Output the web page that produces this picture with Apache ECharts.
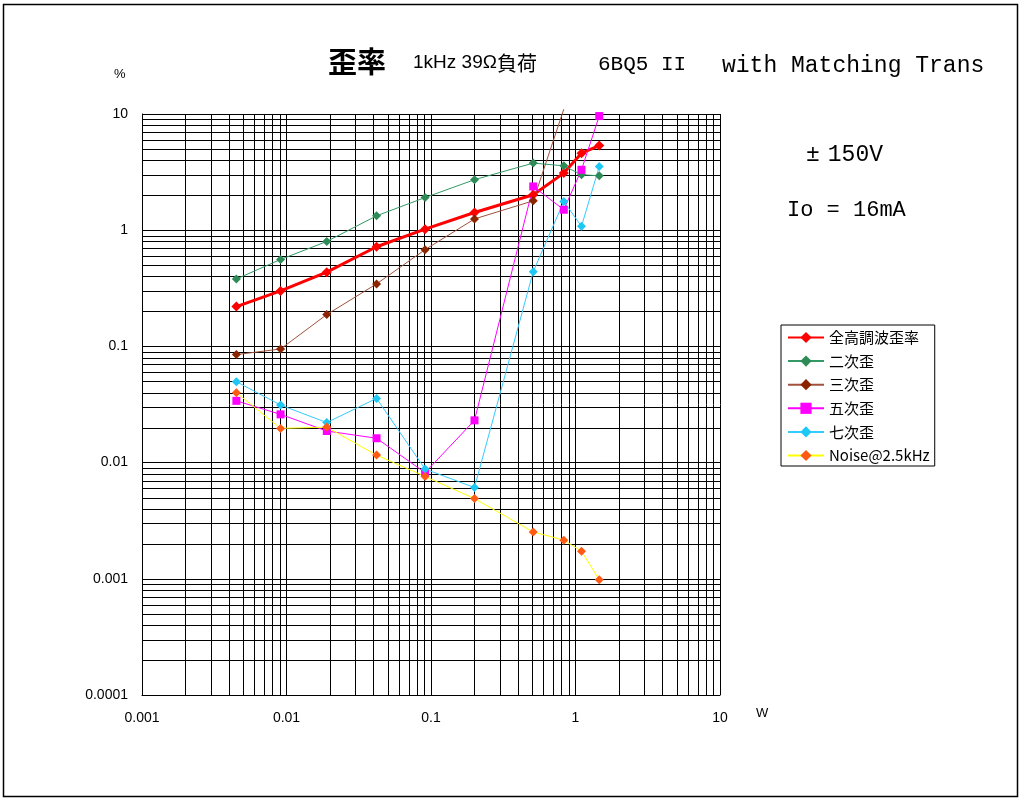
<!DOCTYPE html>
<html><head><meta charset="utf-8">
<script src="https://cdn.jsdelivr.net/npm/echarts@6/dist/echarts.min.js"></script>
<style>html,body{margin:0;padding:0;background:#fff}#c{width:1024px;height:803px}</style>
</head><body><div id="c"></div>
<script>
// Output power (W)
const powerW = [0.0045, 0.0091, 0.019, 0.042, 0.091, 0.2, 0.51, 0.83, 1.1, 1.46];
// Distortion (%)
const thd   = [0.22, 0.30, 0.435, 0.72, 1.02, 1.42, 2.02, 3.1, 4.6, 5.35];
const h2    = [0.38, 0.56, 0.80, 1.33, 1.91, 2.72, 3.78, 3.58, 3.0, 2.94];
const h3    = [0.085, 0.095, 0.188, 0.345, 0.68, 1.25, 1.79, 11];
const h5    = [0.034, 0.026, 0.0187, 0.0162, 0.0082, 0.0231, 2.38, 1.50, 3.31, 9.6];
const h7    = [0.0497, 0.0313, 0.0221, 0.0357, 0.0088, 0.0061, 0.44, 1.77, 1.08, 3.53];
const noise = [0.040, 0.0197, 0.0202, 0.0116, 0.0076, 0.0049, 0.00253, 0.00215, 0.00173, 0.00098];

const seriesNames = ['全高調波歪率', '二次歪', '三次歪', '五次歪', '七次歪', 'Noise@2.5kHz'];
const xTickLabels = ['0.001', '0.01', '0.1', '1', '10'];
const yTickLabels = ['0.0001', '0.001', '0.01', '0.1', '1', '10'];

const minorX = [];
for (let k = -3; k <= 0; k++) for (let m = 2; m <= 9; m++) minorX.push(+(m * Math.pow(10, k)).toPrecision(3));
const minorY = [];
for (let k = -4; k <= 0; k++) for (let m = 2; m <= 9; m++) minorY.push(+(m * Math.pow(10, k)).toPrecision(3));

function pairs(vals) { return vals.map((v, i) => [powerW[i], v]); }

const chart = echarts.init(document.getElementById('c'), null, {renderer: 'canvas'});
const axisFont = 'Liberation Sans, Arial, sans-serif';
const cjk = 'Noto Sans CJK JP, sans-serif';

const h3Data = pairs(h3);
h3Data[h3Data.length - 1] = {value: h3Data[h3Data.length - 1], symbol: 'none'};

function mkLine(name, data, color, lineColor, width, symbol, size, extra) {
  return Object.assign({
    name, type: 'line', data, symbol, symbolSize: size,
    itemStyle: {color: color},
    lineStyle: {color: lineColor, width: width},
    emphasis: {disabled: true}, animation: false, z: 3
  }, extra || {});
}

const option = {
  animation: false,
  backgroundColor: '#fff',
  grid: {left: 142, top: 114, right: 304, bottom: 108, containLabel: false},
  xAxis: {
    type: 'log', logBase: 10, min: 0.001, max: 10,
    axisLine: {show: true, onZero: false, lineStyle: {color: '#000', width: 1}},
    axisTick: {show: false},
    axisLabel: {color: '#000', fontSize: 14, fontFamily: axisFont, margin: 16,
      formatter: v => xTickLabels[Math.round(Math.log10(v)) + 3]},
    splitLine: {show: true, lineStyle: {color: '#000', width: 1}}
  },
  yAxis: {
    type: 'log', logBase: 10, min: 0.0001, max: 10,
    axisLine: {show: true, onZero: false, lineStyle: {color: '#000', width: 1}},
    axisTick: {show: false},
    axisLabel: {color: '#000', fontSize: 14, fontFamily: axisFont, margin: 14,
      formatter: v => yTickLabels[Math.round(Math.log10(v)) + 4]},
    splitLine: {show: true, lineStyle: {color: '#000', width: 1}}
  },
  legend: {
    orient: 'vertical', left: 781, top: 325,
    data: seriesNames,
    backgroundColor: '#fff', borderColor: '#000', borderWidth: 1,
    padding: [5, 5, 3, 6], itemGap: 8.6, itemWidth: 36, itemHeight: 14,
    textStyle: {fontSize: 15, fontFamily: cjk, color: '#000'},
    selectedMode: false
  },
  graphic: [
    {type: 'rect', silent: true, shape: {x: 3.5, y: 4.5, width: 1014, height: 792},
      style: {fill: null, stroke: '#000', lineWidth: 1.5}},
    {type: 'text', left: 328, top: 47, style: {text: '歪率', font: 'bold 29px Noto Sans CJK JP', fill: '#000'}},
    {type: 'text', left: 413, top: 53, style: {
      text: '{a|1kHz} {a|39Ω}{b|負荷}',
      rich: {
        a: {fontFamily: 'Liberation Sans Narrow, Liberation Sans, sans-serif', fontSize: 19, fill: '#000'},
        b: {fontFamily: 'Noto Sans CJK JP, sans-serif', fontSize: 20, fill: '#000'}
      }, font: '19px Liberation Sans Narrow, sans-serif', fill: '#000'}},
    {type: 'text', left: 598, top: 54, style: {text: '6BQ5 II', font: '21px Liberation Mono, monospace', fill: '#000'}},
    {type: 'text', left: 722, top: 54, style: {text: 'with Matching Trans', font: '23px Liberation Mono, monospace', fill: '#000'}},
    {type: 'text', left: 806, top: 143, style: {
      text: '{p|±}150V',
      rich: {p: {fontFamily: 'Liberation Mono, monospace', fontSize: 23, padding: [0, 8, 0, 0], fill: '#000'}},
      font: '23px Liberation Mono, monospace', fill: '#000'}},
    {type: 'text', left: 787, top: 199, style: {text: 'Io = 16mA', font: '22px Liberation Mono, monospace', fill: '#000'}},
    {type: 'text', left: 114, top: 68, style: {text: '%', font: '13px Liberation Sans, sans-serif', fill: '#000'}},
    {type: 'text', left: 756, top: 707, style: {text: 'W', font: '13px Liberation Sans, sans-serif', fill: '#000'}}
  ],
  series: [
    {
      type: 'custom', silent: true, z: 1, clip: true,
      data: minorY.map(v => [1, v]),
      renderItem: function (params, api) {
        const cs = params.coordSys;
        const y = Math.round(api.coord([1, api.value(1)])[1]) + 0.5;
        return {type: 'line', shape: {x1: cs.x, y1: y, x2: cs.x + cs.width, y2: y},
          style: {stroke: '#000', lineWidth: 1}};
      }
    },
    {
      type: 'custom', silent: true, z: 1, clip: true,
      data: minorX.map(v => [v, 1]),
      renderItem: function (params, api) {
        const cs = params.coordSys;
        const x = Math.round(api.coord([api.value(0), 1])[0]) + 0.5;
        return {type: 'line', shape: {x1: x, y1: cs.y, x2: x, y2: cs.y + cs.height},
          style: {stroke: '#000', lineWidth: 1}};
      }
    },
    mkLine(seriesNames[0], pairs(thd), '#ff0000', '#ff0000', 3, 'diamond', 10),
    mkLine(seriesNames[1], pairs(h2), '#2e8b57', '#339966', 1, 'diamond', 9),
    mkLine(seriesNames[2], h3Data, '#8b2500', '#a0523c', 1, 'diamond', 9, {clip: false}),
    mkLine(seriesNames[3], pairs(h5), '#ff00ff', '#ff00ff', 1, 'rect', 8),
    mkLine(seriesNames[4], pairs(h7), '#1ec8f5', '#33ccff', 1, 'diamond', 9),
    mkLine(seriesNames[5], pairs(noise), '#ff5a14', '#ffff00', 1, 'diamond', 9)
  ]
};
chart.setOption(option);
</script>
</body></html>
